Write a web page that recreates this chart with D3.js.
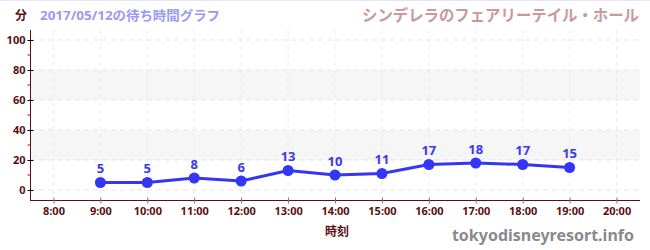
<!DOCTYPE html>
<html lang="ja">
  <head>
    <meta charset="UTF-8" />
    <title>待ち時間グラフ</title>
    <script src="https://cdn.jsdelivr.net/npm/d3@7"></script>
    <style>
      body { margin: 0; background: #fff; }
      svg text { font-family: "Noto Sans", "Noto Sans CJK JP", sans-serif; }
    </style>
  </head>
  <body>
    <script>
      var hours = [9, 10, 11, 12, 13, 14, 15, 16, 17, 18, 19];
      var waits = [5, 5, 8, 6, 13, 10, 11, 17, 18, 17, 15];
      var xTicks = [8, 9, 10, 11, 12, 13, 14, 15, 16, 17, 18, 19, 20];
      var yTicks = [0, 20, 40, 60, 80, 100];
      var yMinor = [10, 30, 50, 70, 90];
      var bands = [[20, 40], [60, 80]];

      var W = 650, H = 250;
      // plot area (note: "top" is reserved on window, so use other names)
      var pLeft = 30, pRight = 640, pTop = 30, pBottom = 200;
      var dark = "#5a0f12";

      var svg = d3.select("body").append("svg").attr("width", W).attr("height", H);

      var x = d3.scaleLinear().domain([7.5, 20.5]).range([pLeft, pRight]);
      var y = d3.scaleLinear().domain([-6.67, 106.67]).range([pBottom, pTop]);

      svg.append("line").attr("x1", 0).attr("x2", W).attr("y1", 0.5).attr("y2", 0.5)
        .attr("stroke", "#e4e4f6");

      // bands
      svg.selectAll("rect.band").data(bands).enter().append("rect")
        .attr("x", pLeft + 1).attr("width", pRight - pLeft - 1)
        .attr("y", function (d) { return y(d[1]); })
        .attr("height", function (d) { return y(d[0]) - y(d[1]); })
        .attr("fill", "#f6f6f6");

      // grid
      svg.selectAll("line.vg").data(xTicks).enter().append("line")
        .attr("x1", function (d) { return x(d); }).attr("x2", function (d) { return x(d); })
        .attr("y1", pTop).attr("y2", pBottom)
        .attr("stroke", "#ececec").attr("stroke-dasharray", "4,4");
      svg.selectAll("line.hg").data(yTicks).enter().append("line")
        .attr("x1", pLeft).attr("x2", pRight)
        .attr("y1", function (d) { return y(d); }).attr("y2", function (d) { return y(d); })
        .attr("stroke", "#e6e6e6").attr("stroke-dasharray", "5,4");

      // y axis
      var yAxis = svg.append("g").attr("transform", "translate(" + (pLeft + 0.5) + ",0)")
        .call(d3.axisLeft(y).tickValues(yTicks).tickSize(3).tickPadding(3));
      yAxis.select(".domain").attr("stroke", dark).attr("d", "M0," + pTop + "V" + pBottom);
      yAxis.selectAll(".tick line").attr("stroke", "#000").attr("x2", 3).attr("x1", -3);
      yAxis.selectAll(".tick text").attr("fill", dark).attr("font-size", 11)
        .attr("font-weight", "bold").attr("x", -5);
      yAxis.selectAll("line.minor").data(yMinor).enter().append("line")
        .attr("x1", -3).attr("x2", 0)
        .attr("y1", function (d) { return y(d); }).attr("y2", function (d) { return y(d); })
        .attr("stroke", "#e00000");

      // x axis
      var xAxis = svg.append("g").attr("transform", "translate(0," + (pBottom + 0.5) + ")")
        .call(d3.axisBottom(x).tickValues(xTicks).tickSize(3)
          .tickFormat(function (d) { return d + ":00"; }));
      xAxis.select(".domain").attr("stroke", dark).attr("d", "M" + pLeft + ",0H" + pRight);
      xAxis.selectAll(".tick line").attr("stroke", "#777").attr("y1", -3).attr("y2", 3);
      xAxis.selectAll(".tick text").attr("fill", dark).attr("font-size", 11)
        .attr("font-weight", "bold").attr("y", 7);

      // line
      var line = d3.line().x(function (d, i) { return x(hours[i]); }).y(function (d) { return y(d); });
      svg.append("path").datum(waits).attr("d", line)
        .attr("fill", "none").attr("stroke", "#3535f5").attr("stroke-width", 3);
      svg.selectAll("circle.pt").data(waits).enter().append("circle")
        .attr("cx", function (d, i) { return x(hours[i]); })
        .attr("cy", function (d) { return y(d); })
        .attr("r", 5.5).attr("fill", "#3535f5");
      svg.selectAll("text.val").data(waits).enter().append("text")
        .attr("x", function (d, i) { return x(hours[i]); })
        .attr("y", function (d) { return y(d) - 9; })
        .attr("text-anchor", "middle").attr("fill", "#3a3af0")
        .attr("font-size", 13).attr("font-weight", "bold")
        .text(function (d) { return d; });

      // titles
      svg.append("text").attr("x", 15).attr("y", 20).attr("fill", dark)
        .attr("font-size", 12).attr("font-weight", "bold").text("分");
      svg.append("text").attr("x", 40).attr("y", 20).attr("fill", "#9a9af2")
        .attr("font-size", 13).attr("font-weight", "bold")
        .attr("textLength", 180).attr("lengthAdjust", "spacingAndGlyphs")
        .text("2017/05/12の待ち時間グラフ");
      svg.append("text").attr("x", 639).attr("y", 21).attr("text-anchor", "end")
        .attr("fill", "#c9999b").attr("font-size", 16).attr("font-weight", "bold")
        .attr("textLength", 277).attr("lengthAdjust", "spacingAndGlyphs")
        .text("シンデレラのフェアリーテイル・ホール");
      svg.append("text").attr("x", (pLeft + pRight) / 2 + 2).attr("y", 236).attr("text-anchor", "middle")
        .attr("fill", dark).attr("font-size", 12).attr("font-weight", "bold").text("時刻");
      svg.append("text").attr("x", 634).attr("y", 241).attr("text-anchor", "end")
        .attr("fill", "#8a8a8a").attr("font-size", 16).attr("font-weight", "bold")
        .text("tokyodisneyresort.info");
    </script>
  </body>
</html>
